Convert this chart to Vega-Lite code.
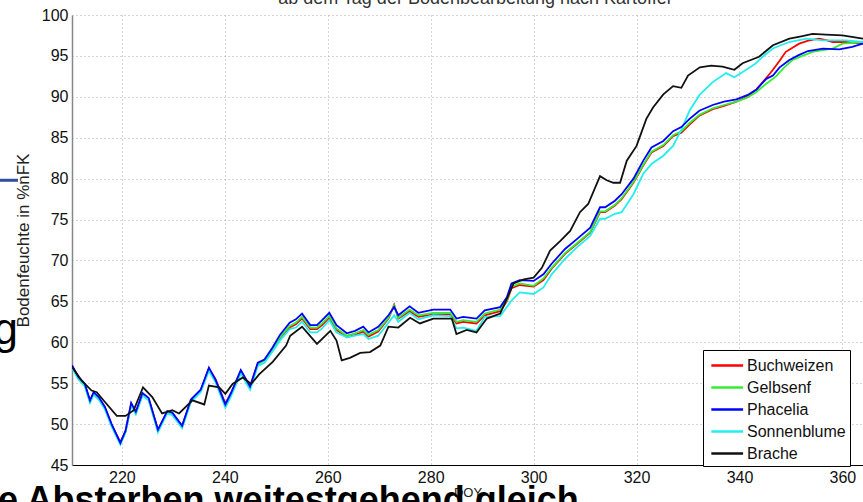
{
  "$schema": "https://vega.github.io/schema/vega-lite/v6.json",
  "width": 791,
  "height": 450,
  "autosize": {"type": "none"},
  "padding": {"left": 72, "top": 15, "right": 0, "bottom": 37},
  "background": "white",
  "config": {"view": {"stroke": null}, "font": "Liberation Sans"},
  "datasets": {
    "soil": [
      {"series":"Buchweizen","doy":210.3,"nfk":57.1},{"series":"Buchweizen","doy":211.5,"nfk":55.7},{"series":"Buchweizen","doy":212.8,"nfk":54.8},{"series":"Buchweizen","doy":213.8,"nfk":52.8},{"series":"Buchweizen","doy":214.5,"nfk":53.8},{"series":"Buchweizen","doy":215.5,"nfk":53.2},{"series":"Buchweizen","doy":216.7,"nfk":52.0},{"series":"Buchweizen","doy":218,"nfk":49.9},{"series":"Buchweizen","doy":219.7,"nfk":47.8},{"series":"Buchweizen","doy":220.7,"nfk":49.1},{"series":"Buchweizen","doy":221.8,"nfk":52.5},{"series":"Buchweizen","doy":222.7,"nfk":51.4},{"series":"Buchweizen","doy":224,"nfk":53.7},{"series":"Buchweizen","doy":225.2,"nfk":53.1},{"series":"Buchweizen","doy":227,"nfk":49.3},{"series":"Buchweizen","doy":228.8,"nfk":51.5},{"series":"Buchweizen","doy":229.8,"nfk":51.3},{"series":"Buchweizen","doy":231.7,"nfk":49.8},{"series":"Buchweizen","doy":233.4,"nfk":52.9},{"series":"Buchweizen","doy":235.3,"nfk":54.1},{"series":"Buchweizen","doy":236.9,"nfk":56.8},{"series":"Buchweizen","doy":238.2,"nfk":55.5},{"series":"Buchweizen","doy":240.1,"nfk":52.5},{"series":"Buchweizen","doy":241.2,"nfk":53.8},{"series":"Buchweizen","doy":243.1,"nfk":56.5},{"series":"Buchweizen","doy":244.9,"nfk":54.6},{"series":"Buchweizen","doy":246.4,"nfk":57.4},{"series":"Buchweizen","doy":247.7,"nfk":57.8},{"series":"Buchweizen","doy":249.3,"nfk":59.2},{"series":"Buchweizen","doy":250.7,"nfk":60.5},{"series":"Buchweizen","doy":252.6,"nfk":61.8},{"series":"Buchweizen","doy":253.8,"nfk":62.2},{"series":"Buchweizen","doy":255,"nfk":62.9},{"series":"Buchweizen","doy":256.6,"nfk":61.6},{"series":"Buchweizen","doy":257.9,"nfk":61.6},{"series":"Buchweizen","doy":258.9,"nfk":62.1},{"series":"Buchweizen","doy":260.3,"nfk":63.0},{"series":"Buchweizen","doy":261.7,"nfk":61.5},{"series":"Buchweizen","doy":263.7,"nfk":60.6},{"series":"Buchweizen","doy":265.3,"nfk":60.9},{"series":"Buchweizen","doy":266.9,"nfk":61.3},{"series":"Buchweizen","doy":267.9,"nfk":60.7},{"series":"Buchweizen","doy":269.8,"nfk":61.3},{"series":"Buchweizen","doy":271.8,"nfk":62.9},{"series":"Buchweizen","doy":272.9,"nfk":64.6},{"series":"Buchweizen","doy":273.7,"nfk":62.9},{"series":"Buchweizen","doy":275.9,"nfk":63.8},{"series":"Buchweizen","doy":277.6,"nfk":63.1},{"series":"Buchweizen","doy":280.5,"nfk":63.4},{"series":"Buchweizen","doy":283.8,"nfk":63.4},{"series":"Buchweizen","doy":285,"nfk":62.3},{"series":"Buchweizen","doy":286.3,"nfk":62.5},{"series":"Buchweizen","doy":288.9,"nfk":62.3},{"series":"Buchweizen","doy":290.5,"nfk":63.3},{"series":"Buchweizen","doy":293.5,"nfk":63.8},{"series":"Buchweizen","doy":294.8,"nfk":65.0},{"series":"Buchweizen","doy":295.7,"nfk":66.6},{"series":"Buchweizen","doy":297.3,"nfk":67.0},{"series":"Buchweizen","doy":300,"nfk":66.8},{"series":"Buchweizen","doy":301.9,"nfk":67.6},{"series":"Buchweizen","doy":303.5,"nfk":69.0},{"series":"Buchweizen","doy":306.1,"nfk":70.8},{"series":"Buchweizen","doy":308.4,"nfk":72.0},{"series":"Buchweizen","doy":311,"nfk":73.4},{"series":"Buchweizen","doy":312.9,"nfk":75.9},{"series":"Buchweizen","doy":313.9,"nfk":75.9},{"series":"Buchweizen","doy":315.8,"nfk":76.7},{"series":"Buchweizen","doy":317.1,"nfk":77.5},{"series":"Buchweizen","doy":319.4,"nfk":79.5},{"series":"Buchweizen","doy":321.3,"nfk":81.6},{"series":"Buchweizen","doy":322.9,"nfk":83.2},{"series":"Buchweizen","doy":325.2,"nfk":84.0},{"series":"Buchweizen","doy":327.1,"nfk":85.2},{"series":"Buchweizen","doy":328.7,"nfk":85.6},{"series":"Buchweizen","doy":330.3,"nfk":86.6},{"series":"Buchweizen","doy":332.2,"nfk":87.7},{"series":"Buchweizen","doy":334.8,"nfk":88.5},{"series":"Buchweizen","doy":337,"nfk":88.9},{"series":"Buchweizen","doy":339.4,"nfk":89.4},{"series":"Buchweizen","doy":341.5,"nfk":90.0},{"series":"Buchweizen","doy":343.3,"nfk":90.9},{"series":"Buchweizen","doy":345.2,"nfk":92.3},{"series":"Buchweizen","doy":346.5,"nfk":93.3},{"series":"Buchweizen","doy":347.8,"nfk":94.4},{"series":"Buchweizen","doy":349,"nfk":95.5},{"series":"Buchweizen","doy":350.3,"nfk":96.0},{"series":"Buchweizen","doy":351.6,"nfk":96.5},{"series":"Buchweizen","doy":353.5,"nfk":96.9},{"series":"Buchweizen","doy":355.5,"nfk":97.1},{"series":"Buchweizen","doy":357,"nfk":96.9},{"series":"Buchweizen","doy":358.1,"nfk":96.7},{"series":"Buchweizen","doy":360.7,"nfk":96.7},{"series":"Buchweizen","doy":364,"nfk":96.5},

      {"series":"Gelbsenf","doy":210.3,"nfk":57.0},{"series":"Gelbsenf","doy":211.5,"nfk":55.6},{"series":"Gelbsenf","doy":212.8,"nfk":54.7},{"series":"Gelbsenf","doy":213.8,"nfk":52.7},{"series":"Gelbsenf","doy":214.5,"nfk":53.7},{"series":"Gelbsenf","doy":215.5,"nfk":53.1},{"series":"Gelbsenf","doy":216.7,"nfk":51.9},{"series":"Gelbsenf","doy":218,"nfk":49.8},{"series":"Gelbsenf","doy":219.7,"nfk":47.6},{"series":"Gelbsenf","doy":220.7,"nfk":49.0},{"series":"Gelbsenf","doy":221.8,"nfk":52.4},{"series":"Gelbsenf","doy":222.7,"nfk":51.3},{"series":"Gelbsenf","doy":224,"nfk":53.6},{"series":"Gelbsenf","doy":225.2,"nfk":53.0},{"series":"Gelbsenf","doy":227,"nfk":49.2},{"series":"Gelbsenf","doy":228.8,"nfk":51.4},{"series":"Gelbsenf","doy":229.8,"nfk":51.2},{"series":"Gelbsenf","doy":231.7,"nfk":49.7},{"series":"Gelbsenf","doy":233.4,"nfk":52.8},{"series":"Gelbsenf","doy":235.3,"nfk":54.0},{"series":"Gelbsenf","doy":236.9,"nfk":56.7},{"series":"Gelbsenf","doy":238.2,"nfk":55.3},{"series":"Gelbsenf","doy":240.1,"nfk":52.3},{"series":"Gelbsenf","doy":241.2,"nfk":53.7},{"series":"Gelbsenf","doy":243.1,"nfk":56.4},{"series":"Gelbsenf","doy":244.9,"nfk":54.5},{"series":"Gelbsenf","doy":246.4,"nfk":57.3},{"series":"Gelbsenf","doy":247.7,"nfk":57.8},{"series":"Gelbsenf","doy":249.3,"nfk":59.2},{"series":"Gelbsenf","doy":250.7,"nfk":60.6},{"series":"Gelbsenf","doy":252.6,"nfk":62.0},{"series":"Gelbsenf","doy":253.8,"nfk":62.4},{"series":"Gelbsenf","doy":255,"nfk":63.1},{"series":"Gelbsenf","doy":256.6,"nfk":61.8},{"series":"Gelbsenf","doy":257.9,"nfk":61.8},{"series":"Gelbsenf","doy":258.9,"nfk":62.3},{"series":"Gelbsenf","doy":260.3,"nfk":63.2},{"series":"Gelbsenf","doy":261.7,"nfk":61.7},{"series":"Gelbsenf","doy":263.7,"nfk":60.8},{"series":"Gelbsenf","doy":265.3,"nfk":61.1},{"series":"Gelbsenf","doy":266.9,"nfk":61.5},{"series":"Gelbsenf","doy":267.9,"nfk":60.9},{"series":"Gelbsenf","doy":269.8,"nfk":61.5},{"series":"Gelbsenf","doy":271.8,"nfk":63.0},{"series":"Gelbsenf","doy":272.9,"nfk":64.5},{"series":"Gelbsenf","doy":273.7,"nfk":63.0},{"series":"Gelbsenf","doy":275.9,"nfk":64.0},{"series":"Gelbsenf","doy":277.6,"nfk":63.3},{"series":"Gelbsenf","doy":280.5,"nfk":63.6},{"series":"Gelbsenf","doy":283.8,"nfk":63.6},{"series":"Gelbsenf","doy":285,"nfk":62.5},{"series":"Gelbsenf","doy":286.3,"nfk":62.7},{"series":"Gelbsenf","doy":288.9,"nfk":62.5},{"series":"Gelbsenf","doy":290.5,"nfk":63.5},{"series":"Gelbsenf","doy":293.5,"nfk":64.0},{"series":"Gelbsenf","doy":294.8,"nfk":65.1},{"series":"Gelbsenf","doy":295.7,"nfk":66.8},{"series":"Gelbsenf","doy":297.3,"nfk":67.2},{"series":"Gelbsenf","doy":300,"nfk":66.9},{"series":"Gelbsenf","doy":301.9,"nfk":67.8},{"series":"Gelbsenf","doy":303.5,"nfk":69.1},{"series":"Gelbsenf","doy":306.1,"nfk":70.9},{"series":"Gelbsenf","doy":308.4,"nfk":72.1},{"series":"Gelbsenf","doy":311,"nfk":73.5},{"series":"Gelbsenf","doy":312.9,"nfk":76.0},{"series":"Gelbsenf","doy":313.9,"nfk":76.0},{"series":"Gelbsenf","doy":315.8,"nfk":76.8},{"series":"Gelbsenf","doy":317.1,"nfk":77.6},{"series":"Gelbsenf","doy":319.4,"nfk":79.6},{"series":"Gelbsenf","doy":321.3,"nfk":81.7},{"series":"Gelbsenf","doy":322.9,"nfk":83.3},{"series":"Gelbsenf","doy":325.2,"nfk":84.1},{"series":"Gelbsenf","doy":327.1,"nfk":85.3},{"series":"Gelbsenf","doy":328.7,"nfk":85.8},{"series":"Gelbsenf","doy":330.3,"nfk":86.8},{"series":"Gelbsenf","doy":332.2,"nfk":87.8},{"series":"Gelbsenf","doy":334.8,"nfk":88.6},{"series":"Gelbsenf","doy":337,"nfk":89.0},{"series":"Gelbsenf","doy":339.4,"nfk":89.4},{"series":"Gelbsenf","doy":341.5,"nfk":89.9},{"series":"Gelbsenf","doy":343.3,"nfk":90.6},{"series":"Gelbsenf","doy":345.2,"nfk":91.6},{"series":"Gelbsenf","doy":347.1,"nfk":92.5},{"series":"Gelbsenf","doy":348.7,"nfk":93.6},{"series":"Gelbsenf","doy":350.3,"nfk":94.5},{"series":"Gelbsenf","doy":352.2,"nfk":95.0},{"series":"Gelbsenf","doy":354.2,"nfk":95.5},{"series":"Gelbsenf","doy":356.2,"nfk":95.7},{"series":"Gelbsenf","doy":358.1,"nfk":95.9},{"series":"Gelbsenf","doy":360,"nfk":96.5},{"series":"Gelbsenf","doy":362,"nfk":96.6},{"series":"Gelbsenf","doy":364,"nfk":96.7},

      {"series":"Sonnenblume","doy":210.3,"nfk":56.9},{"series":"Sonnenblume","doy":211.5,"nfk":55.5},{"series":"Sonnenblume","doy":212.8,"nfk":54.6},{"series":"Sonnenblume","doy":213.8,"nfk":52.6},{"series":"Sonnenblume","doy":214.5,"nfk":53.6},{"series":"Sonnenblume","doy":215.5,"nfk":53.0},{"series":"Sonnenblume","doy":216.7,"nfk":51.8},{"series":"Sonnenblume","doy":218,"nfk":49.7},{"series":"Sonnenblume","doy":219.7,"nfk":47.5},{"series":"Sonnenblume","doy":220.7,"nfk":49.0},{"series":"Sonnenblume","doy":221.8,"nfk":52.3},{"series":"Sonnenblume","doy":222.7,"nfk":51.2},{"series":"Sonnenblume","doy":224,"nfk":53.5},{"series":"Sonnenblume","doy":225.2,"nfk":52.9},{"series":"Sonnenblume","doy":227,"nfk":49.0},{"series":"Sonnenblume","doy":228.8,"nfk":51.3},{"series":"Sonnenblume","doy":229.8,"nfk":51.1},{"series":"Sonnenblume","doy":231.7,"nfk":49.5},{"series":"Sonnenblume","doy":233.4,"nfk":52.7},{"series":"Sonnenblume","doy":235.3,"nfk":53.9},{"series":"Sonnenblume","doy":236.9,"nfk":56.5},{"series":"Sonnenblume","doy":238.2,"nfk":55.1},{"series":"Sonnenblume","doy":240.1,"nfk":52.0},{"series":"Sonnenblume","doy":241.2,"nfk":53.4},{"series":"Sonnenblume","doy":243.1,"nfk":56.2},{"series":"Sonnenblume","doy":244.9,"nfk":54.2},{"series":"Sonnenblume","doy":246.4,"nfk":57.1},{"series":"Sonnenblume","doy":247.7,"nfk":57.5},{"series":"Sonnenblume","doy":249.3,"nfk":58.9},{"series":"Sonnenblume","doy":250.7,"nfk":60.2},{"series":"Sonnenblume","doy":252.6,"nfk":61.6},{"series":"Sonnenblume","doy":253.8,"nfk":61.8},{"series":"Sonnenblume","doy":255,"nfk":62.5},{"series":"Sonnenblume","doy":256.6,"nfk":61.2},{"series":"Sonnenblume","doy":257.9,"nfk":61.2},{"series":"Sonnenblume","doy":258.9,"nfk":61.7},{"series":"Sonnenblume","doy":260.3,"nfk":62.7},{"series":"Sonnenblume","doy":261.7,"nfk":61.2},{"series":"Sonnenblume","doy":263.7,"nfk":60.6},{"series":"Sonnenblume","doy":265.3,"nfk":60.8},{"series":"Sonnenblume","doy":266.9,"nfk":61.0},{"series":"Sonnenblume","doy":267.9,"nfk":60.4},{"series":"Sonnenblume","doy":269.8,"nfk":60.8},{"series":"Sonnenblume","doy":271.8,"nfk":62.4},{"series":"Sonnenblume","doy":272.9,"nfk":63.3},{"series":"Sonnenblume","doy":273.7,"nfk":62.5},{"series":"Sonnenblume","doy":275.9,"nfk":63.6},{"series":"Sonnenblume","doy":277.6,"nfk":62.8},{"series":"Sonnenblume","doy":280.5,"nfk":63.3},{"series":"Sonnenblume","doy":283.8,"nfk":63.2},{"series":"Sonnenblume","doy":285,"nfk":61.7},{"series":"Sonnenblume","doy":286.3,"nfk":61.8},{"series":"Sonnenblume","doy":288.9,"nfk":61.4},{"series":"Sonnenblume","doy":290.5,"nfk":63.1},{"series":"Sonnenblume","doy":293.5,"nfk":63.2},{"series":"Sonnenblume","doy":294.8,"nfk":64.3},{"series":"Sonnenblume","doy":295.7,"nfk":65.1},{"series":"Sonnenblume","doy":297.3,"nfk":66.1},{"series":"Sonnenblume","doy":300,"nfk":65.9},{"series":"Sonnenblume","doy":301.9,"nfk":66.7},{"series":"Sonnenblume","doy":303.5,"nfk":68.3},{"series":"Sonnenblume","doy":306.1,"nfk":70.2},{"series":"Sonnenblume","doy":308.4,"nfk":71.6},{"series":"Sonnenblume","doy":311,"nfk":73.0},{"series":"Sonnenblume","doy":312.9,"nfk":75.1},{"series":"Sonnenblume","doy":313.9,"nfk":75.1},{"series":"Sonnenblume","doy":315.8,"nfk":75.7},{"series":"Sonnenblume","doy":317.1,"nfk":75.9},{"series":"Sonnenblume","doy":319.4,"nfk":78.1},{"series":"Sonnenblume","doy":321.3,"nfk":80.6},{"series":"Sonnenblume","doy":322.9,"nfk":81.8},{"series":"Sonnenblume","doy":325.2,"nfk":82.8},{"series":"Sonnenblume","doy":327.1,"nfk":84.0},{"series":"Sonnenblume","doy":328.7,"nfk":86.0},{"series":"Sonnenblume","doy":330.3,"nfk":88.3},{"series":"Sonnenblume","doy":332.2,"nfk":90.2},{"series":"Sonnenblume","doy":334.8,"nfk":91.8},{"series":"Sonnenblume","doy":337.4,"nfk":92.9},{"series":"Sonnenblume","doy":339,"nfk":92.4},{"series":"Sonnenblume","doy":341.3,"nfk":93.3},{"series":"Sonnenblume","doy":343,"nfk":94.0},{"series":"Sonnenblume","doy":344.5,"nfk":94.9},{"series":"Sonnenblume","doy":346.5,"nfk":95.9},{"series":"Sonnenblume","doy":348,"nfk":96.3},{"series":"Sonnenblume","doy":349.7,"nfk":96.7},{"series":"Sonnenblume","doy":353,"nfk":97.1},{"series":"Sonnenblume","doy":356.2,"nfk":96.9},{"series":"Sonnenblume","doy":360.7,"nfk":96.9},{"series":"Sonnenblume","doy":364,"nfk":96.7},

      {"series":"Phacelia","doy":210.3,"nfk":57.2},{"series":"Phacelia","doy":211.5,"nfk":55.8},{"series":"Phacelia","doy":212.8,"nfk":54.9},{"series":"Phacelia","doy":213.8,"nfk":52.9},{"series":"Phacelia","doy":214.5,"nfk":53.9},{"series":"Phacelia","doy":215.5,"nfk":53.3},{"series":"Phacelia","doy":216.7,"nfk":52.1},{"series":"Phacelia","doy":218,"nfk":50.0},{"series":"Phacelia","doy":219.7,"nfk":47.7},{"series":"Phacelia","doy":220.7,"nfk":49.2},{"series":"Phacelia","doy":221.8,"nfk":52.6},{"series":"Phacelia","doy":222.7,"nfk":51.5},{"series":"Phacelia","doy":224,"nfk":53.8},{"series":"Phacelia","doy":225.2,"nfk":53.2},{"series":"Phacelia","doy":227,"nfk":49.3},{"series":"Phacelia","doy":228.8,"nfk":51.6},{"series":"Phacelia","doy":229.8,"nfk":51.4},{"series":"Phacelia","doy":231.7,"nfk":49.8},{"series":"Phacelia","doy":233.4,"nfk":53.0},{"series":"Phacelia","doy":235.3,"nfk":54.2},{"series":"Phacelia","doy":236.9,"nfk":56.9},{"series":"Phacelia","doy":238.2,"nfk":55.4},{"series":"Phacelia","doy":240.1,"nfk":52.4},{"series":"Phacelia","doy":241.2,"nfk":53.8},{"series":"Phacelia","doy":243.1,"nfk":56.6},{"series":"Phacelia","doy":244.9,"nfk":54.6},{"series":"Phacelia","doy":246.4,"nfk":57.5},{"series":"Phacelia","doy":247.7,"nfk":57.9},{"series":"Phacelia","doy":249.3,"nfk":59.4},{"series":"Phacelia","doy":250.7,"nfk":60.9},{"series":"Phacelia","doy":252.6,"nfk":62.4},{"series":"Phacelia","doy":253.8,"nfk":62.8},{"series":"Phacelia","doy":255,"nfk":63.5},{"series":"Phacelia","doy":256.6,"nfk":62.1},{"series":"Phacelia","doy":257.9,"nfk":62.1},{"series":"Phacelia","doy":258.9,"nfk":62.7},{"series":"Phacelia","doy":260.3,"nfk":63.6},{"series":"Phacelia","doy":261.7,"nfk":62.1},{"series":"Phacelia","doy":263.7,"nfk":61.1},{"series":"Phacelia","doy":265.3,"nfk":61.4},{"series":"Phacelia","doy":266.9,"nfk":61.9},{"series":"Phacelia","doy":267.9,"nfk":61.2},{"series":"Phacelia","doy":269.8,"nfk":61.9},{"series":"Phacelia","doy":271.8,"nfk":63.3},{"series":"Phacelia","doy":272.9,"nfk":64.3},{"series":"Phacelia","doy":273.7,"nfk":63.3},{"series":"Phacelia","doy":275.9,"nfk":64.4},{"series":"Phacelia","doy":277.6,"nfk":63.6},{"series":"Phacelia","doy":280.5,"nfk":64.0},{"series":"Phacelia","doy":283.8,"nfk":64.0},{"series":"Phacelia","doy":285,"nfk":62.9},{"series":"Phacelia","doy":286.3,"nfk":63.1},{"series":"Phacelia","doy":288.9,"nfk":62.9},{"series":"Phacelia","doy":290.5,"nfk":63.9},{"series":"Phacelia","doy":293.5,"nfk":64.3},{"series":"Phacelia","doy":294.8,"nfk":65.5},{"series":"Phacelia","doy":295.7,"nfk":67.2},{"series":"Phacelia","doy":297.3,"nfk":67.6},{"series":"Phacelia","doy":300,"nfk":67.5},{"series":"Phacelia","doy":301.9,"nfk":68.3},{"series":"Phacelia","doy":303.5,"nfk":69.6},{"series":"Phacelia","doy":306.1,"nfk":71.4},{"series":"Phacelia","doy":308.4,"nfk":72.6},{"series":"Phacelia","doy":311,"nfk":74.0},{"series":"Phacelia","doy":312.9,"nfk":76.5},{"series":"Phacelia","doy":313.9,"nfk":76.5},{"series":"Phacelia","doy":315.8,"nfk":77.3},{"series":"Phacelia","doy":317.1,"nfk":78.1},{"series":"Phacelia","doy":319.4,"nfk":80.0},{"series":"Phacelia","doy":321.3,"nfk":82.2},{"series":"Phacelia","doy":322.9,"nfk":83.8},{"series":"Phacelia","doy":325.2,"nfk":84.6},{"series":"Phacelia","doy":327.1,"nfk":85.8},{"series":"Phacelia","doy":328.7,"nfk":86.3},{"series":"Phacelia","doy":330.3,"nfk":87.3},{"series":"Phacelia","doy":332.2,"nfk":88.3},{"series":"Phacelia","doy":334.8,"nfk":89.0},{"series":"Phacelia","doy":337,"nfk":89.4},{"series":"Phacelia","doy":339.4,"nfk":89.7},{"series":"Phacelia","doy":341.5,"nfk":90.2},{"series":"Phacelia","doy":343.3,"nfk":90.9},{"series":"Phacelia","doy":345.2,"nfk":92.2},{"series":"Phacelia","doy":346.5,"nfk":92.6},{"series":"Phacelia","doy":347.8,"nfk":93.6},{"series":"Phacelia","doy":349.7,"nfk":94.5},{"series":"Phacelia","doy":351.5,"nfk":95.1},{"series":"Phacelia","doy":353.3,"nfk":95.6},{"series":"Phacelia","doy":356.2,"nfk":95.9},{"series":"Phacelia","doy":359.4,"nfk":95.8},{"series":"Phacelia","doy":361.9,"nfk":96.1},{"series":"Phacelia","doy":364,"nfk":96.5},

      {"series":"Brache","doy":210.3,"nfk":57.0},{"series":"Brache","doy":212.2,"nfk":55.3},{"series":"Brache","doy":214.1,"nfk":54.1},{"series":"Brache","doy":215.1,"nfk":53.9},{"series":"Brache","doy":216.7,"nfk":52.7},{"series":"Brache","doy":219,"nfk":51.0},{"series":"Brache","doy":220.7,"nfk":51.0},{"series":"Brache","doy":222.3,"nfk":51.7},{"series":"Brache","doy":224.1,"nfk":54.5},{"series":"Brache","doy":225.9,"nfk":53.3},{"series":"Brache","doy":227.8,"nfk":51.3},{"series":"Brache","doy":229.8,"nfk":51.7},{"series":"Brache","doy":231.1,"nfk":51.3},{"series":"Brache","doy":233.7,"nfk":52.9},{"series":"Brache","doy":236,"nfk":52.4},{"series":"Brache","doy":236.9,"nfk":54.7},{"series":"Brache","doy":238.9,"nfk":54.5},{"series":"Brache","doy":240.1,"nfk":53.7},{"series":"Brache","doy":241.5,"nfk":54.9},{"series":"Brache","doy":243.5,"nfk":55.7},{"series":"Brache","doy":245.1,"nfk":54.9},{"series":"Brache","doy":246.7,"nfk":56.1},{"series":"Brache","doy":249.3,"nfk":57.6},{"series":"Brache","doy":251.9,"nfk":59.6},{"series":"Brache","doy":252.7,"nfk":60.8},{"series":"Brache","doy":255,"nfk":61.9},{"series":"Brache","doy":257.9,"nfk":59.8},{"series":"Brache","doy":260.5,"nfk":61.4},{"series":"Brache","doy":261.7,"nfk":60.2},{"series":"Brache","doy":262.7,"nfk":57.8},{"series":"Brache","doy":264.3,"nfk":58.1},{"series":"Brache","doy":266.3,"nfk":58.7},{"series":"Brache","doy":268.2,"nfk":58.8},{"series":"Brache","doy":270.2,"nfk":59.6},{"series":"Brache","doy":271.8,"nfk":61.9},{"series":"Brache","doy":273.7,"nfk":61.8},{"series":"Brache","doy":276,"nfk":63.0},{"series":"Brache","doy":277.9,"nfk":62.3},{"series":"Brache","doy":280.5,"nfk":62.9},{"series":"Brache","doy":284.1,"nfk":62.9},{"series":"Brache","doy":285,"nfk":61.0},{"series":"Brache","doy":287,"nfk":61.5},{"series":"Brache","doy":288.9,"nfk":61.2},{"series":"Brache","doy":290.9,"nfk":62.9},{"series":"Brache","doy":293.5,"nfk":63.5},{"series":"Brache","doy":294.8,"nfk":65.3},{"series":"Brache","doy":296.1,"nfk":67.2},{"series":"Brache","doy":298.1,"nfk":67.7},{"series":"Brache","doy":300,"nfk":67.9},{"series":"Brache","doy":301.6,"nfk":69.1},{"series":"Brache","doy":303.2,"nfk":71.2},{"series":"Brache","doy":305.2,"nfk":72.4},{"series":"Brache","doy":307.1,"nfk":73.6},{"series":"Brache","doy":309,"nfk":75.9},{"series":"Brache","doy":310.6,"nfk":76.9},{"series":"Brache","doy":312.9,"nfk":80.3},{"series":"Brache","doy":314.2,"nfk":79.8},{"series":"Brache","doy":315.5,"nfk":79.5},{"series":"Brache","doy":316.8,"nfk":79.5},{"series":"Brache","doy":318.1,"nfk":82.2},{"series":"Brache","doy":320,"nfk":84.0},{"series":"Brache","doy":321.9,"nfk":87.3},{"series":"Brache","doy":323.2,"nfk":88.7},{"series":"Brache","doy":325.2,"nfk":90.3},{"series":"Brache","doy":327.1,"nfk":91.3},{"series":"Brache","doy":328.7,"nfk":91.1},{"series":"Brache","doy":330,"nfk":92.6},{"series":"Brache","doy":332.3,"nfk":93.6},{"series":"Brache","doy":334.5,"nfk":93.8},{"series":"Brache","doy":336.7,"nfk":93.7},{"series":"Brache","doy":339,"nfk":93.3},{"series":"Brache","doy":340.6,"nfk":94.1},{"series":"Brache","doy":343.8,"nfk":94.9},{"series":"Brache","doy":346.5,"nfk":96.3},{"series":"Brache","doy":349.7,"nfk":97.1},{"series":"Brache","doy":352,"nfk":97.4},{"series":"Brache","doy":354.2,"nfk":97.7},{"series":"Brache","doy":356.8,"nfk":97.6},{"series":"Brache","doy":360,"nfk":97.5},{"series":"Brache","doy":364,"nfk":97.1}
    ]
  },
  "layer": [
    {
      "data": {"name": "soil"},
      "mark": {"type": "line", "strokeWidth": 1.8, "clip": true},
      "encoding": {
        "x": {
          "field": "doy", "type": "quantitative",
          "scale": {"domain": [210.3, 364], "nice": false, "zero": false},
          "axis": {
            "title": "DOY", "titleFontSize": 13, "titleFontWeight": "normal", "titleColor": "#222", "titlePadding": 1,
            "values": [220, 240, 260, 280, 300, 320, 340, 360],
            "labelFontSize": 16, "labelColor": "#111", "labelPadding": 4,
            "ticks": false, "domainColor": "#000", "domainWidth": 1,
            "grid": true, "gridColor": "#aaaaaa", "gridDash": [1, 3], "gridWidth": 1
          }
        },
        "y": {
          "field": "nfk", "type": "quantitative",
          "scale": {"domain": [45, 100], "nice": false, "zero": false},
          "axis": {
            "title": "Bodenfeuchte in %nFK", "titleFontSize": 17, "titleFontWeight": "normal", "titleColor": "#222", "titleX": -40,
            "values": [45, 50, 55, 60, 65, 70, 75, 80, 85, 90, 95, 100],
            "labelFontSize": 16, "labelColor": "#111", "labelPadding": 4,
            "ticks": false, "domainColor": "#888888", "domainWidth": 1.5,
            "grid": true, "gridColor": "#aaaaaa", "gridDash": [1, 3], "gridWidth": 1
          }
        },
        "color": {
          "field": "series", "type": "nominal",
          "scale": {
            "domain": ["Buchweizen", "Gelbsenf", "Phacelia", "Sonnenblume", "Brache"],
            "range": ["#ff0000", "#33ee33", "#0000ff", "#22eeee", "#111111"]
          },
          "legend": {
            "title": null, "orient": "none", "legendX": 631, "legendY": 335,
            "strokeColor": "#000", "fillColor": "#ffffff", "padding": 4,
            "symbolType": "M-0.7,0H2.4", "symbolSize": 420, "symbolStrokeWidth": 2.5,
            "labelFontSize": 16, "labelOffset": 17, "labelColor": "#111", "labelLimit": 300, "rowPadding": 2
          }
        }
      }
    },
    {
      "data": {"values": [{}]},
      "mark": {"type": "text", "fontSize": 18, "color": "#333", "align": "center", "baseline": "alphabetic"},
      "encoding": {"x": {"datum": 288.5, "type": "quantitative"}, "y": {"datum": 101.3, "type": "quantitative"}, "text": {"value": "ab dem Tag der Bodenbearbeitung nach Kartoffel"}}
    },
    {
      "data": {"values": [{}]},
      "mark": {"type": "text", "fontSize": 36, "fontWeight": "bold", "color": "#000", "align": "left", "baseline": "alphabetic"},
      "encoding": {"x": {"datum": 195.9, "type": "quantitative"}, "y": {"datum": 39.2, "type": "quantitative"}, "text": {"value": "e Absterben weitestgehend gleich"}}
    },
    {
      "data": {"values": [{}]},
      "mark": {"type": "text", "fontSize": 44, "color": "#000", "align": "right", "baseline": "alphabetic"},
      "encoding": {"x": {"datum": 199.8, "type": "quantitative"}, "y": {"datum": 59.85, "type": "quantitative"}, "text": {"value": "g"}}
    },
    {
      "data": {"values": [{}]},
      "mark": {"type": "rule", "color": "#2e4e9e", "strokeWidth": 3},
      "encoding": {"x": {"datum": 195.9, "type": "quantitative"}, "x2": {"datum": 199.8}, "y": {"datum": 79.8, "type": "quantitative"}}
    }
  ]
}
